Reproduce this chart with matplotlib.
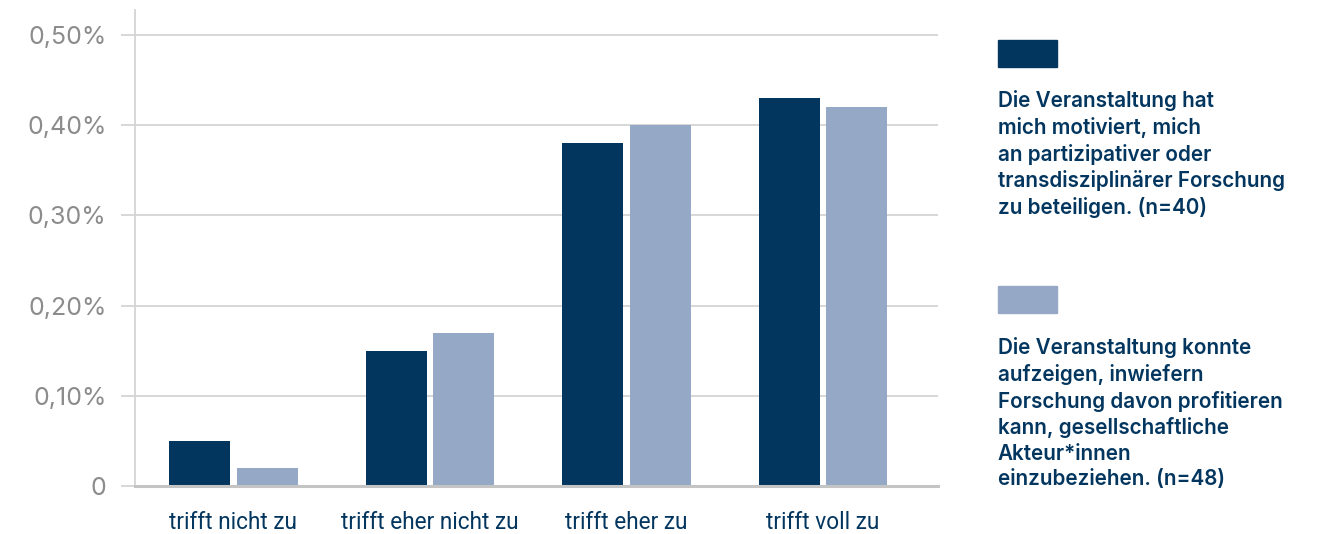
import matplotlib
matplotlib.use("Agg")
import matplotlib.pyplot as plt
from matplotlib.patches import Rectangle
import numpy as np

categories = ["trifft nicht zu", "trifft eher nicht zu", "trifft eher zu", "trifft voll zu"]
motiviert = [0.05, 0.15, 0.38, 0.43]
aufzeigen = [0.02, 0.17, 0.40, 0.42]
yticks = [0, 0.10, 0.20, 0.30, 0.40, 0.50]
yticklabels = ["0", "0,10%", "0,20%", "0,30%", "0,40%", "0,50%"]
series_labels = [
    "Die Veranstaltung hat\nmich motiviert, mich\nan partizipativer oder\ntransdisziplinärer Forschung\nzu beteiligen. (n=40)",
    "Die Veranstaltung konnte\naufzeigen, inwiefern\nForschung davon profitieren\nkann, gesellschaftliche\nAkteur*innen\neinzubeziehen. (n=48)",
]

DARK = "#03365F"
LIGHT = "#95A9C6"
GRID = "#d4d4d4"
TICKC = "#8c8c8c"

plt.rcParams["font.family"] = ["Inter", "DejaVu Sans"]

W, H = 1317, 534
fig = plt.figure(figsize=(W / 100, H / 100), dpi=100)
ax = fig.add_axes([135 / W, 1 - 486 / H, (938 - 135) / W, (486 - 10) / H])

x = np.arange(len(categories))
bw = 0.31
off = 0.172
ax.bar(x - off, motiviert, bw, color=DARK, zorder=3)
ax.bar(x + off, aufzeigen, bw, color=LIGHT, zorder=3)

ax.set_xlim(-0.5, 3.585)
ax.set_ylim(0, 0.5277)
ax.set_yticks(yticks)
ax.set_yticklabels(yticklabels)
ax.yaxis.grid(True, color=GRID, linewidth=1.3, zorder=0)
ax.set_axisbelow(True)

for s in ["top", "right"]:
    ax.spines[s].set_visible(False)
ax.spines["left"].set_color(GRID)
ax.spines["left"].set_linewidth(1.3)
ax.spines["bottom"].set_color("#c4c4c4")
ax.spines["bottom"].set_linewidth(2.2)
ax.spines["bottom"].set_zorder(4)

ax.tick_params(axis="y", length=10, width=1.3, color=GRID, labelcolor=TICKC,
               labelsize=18, pad=10.5)
ax.set_xticks(x)
ax.set_xticklabels(categories, family=["Roboto", "DejaVu Sans"])
ax.tick_params(axis="x", length=0, labelcolor=DARK, labelsize=16.3, pad=18)

# legend
colors = [DARK, LIGHT]
sw_tops = [40, 286]
text_tops = [90, 337]
for c, st, tt, lab in zip(colors, sw_tops, text_tops, series_labels):
    fig.add_artist(Rectangle((998 / W, 1 - (st + 27) / H), 59 / W, 27 / H,
                             transform=fig.transFigure, color=c))
    fig.text(998 / W, 1 - tt / H, lab, color=DARK, fontsize=14.9,
             fontweight="semibold", va="top", ha="left", linespacing=1.34)

fig.savefig("out.png", dpi=100)
